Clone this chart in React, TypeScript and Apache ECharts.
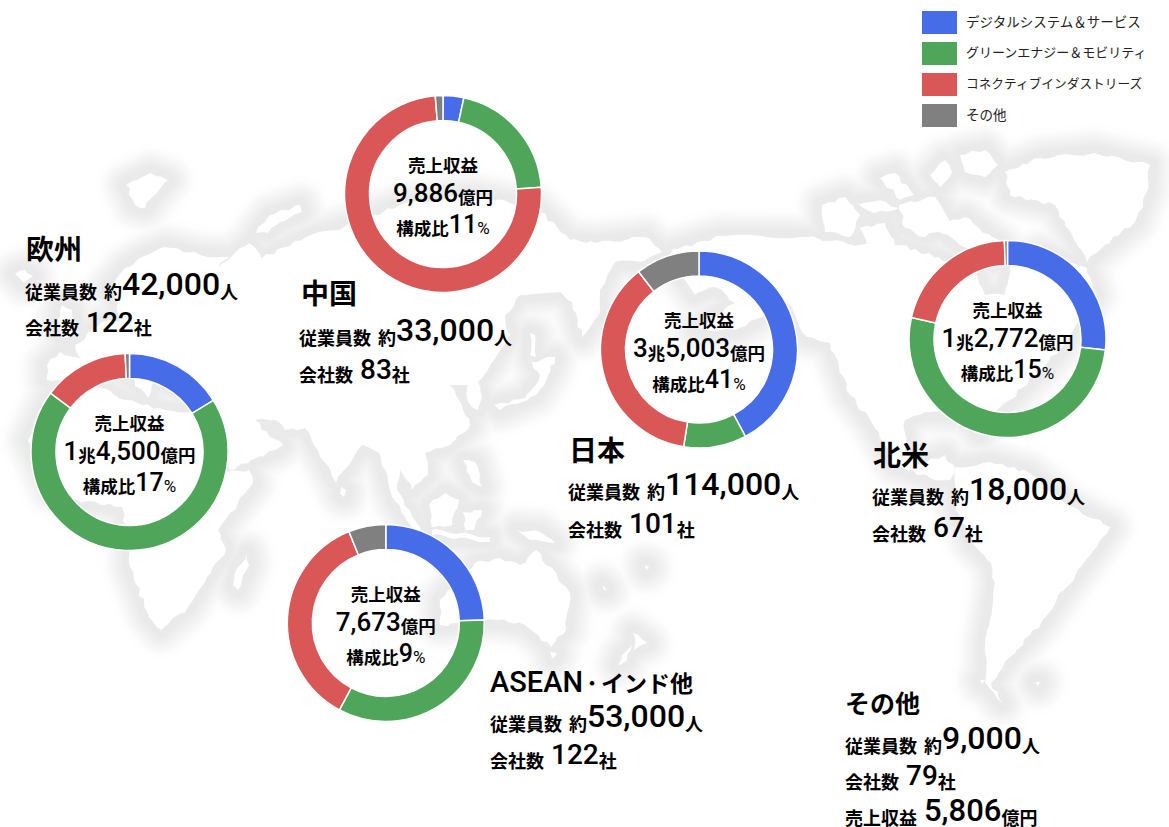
import React, { useEffect, useRef } from "react";
import * as echarts from "echarts";

// ---- data ----
const segmentNames = ["デジタルシステム＆サービス", "グリーンエナジー＆モビリティ", "コネクティブインダストリーズ", "その他"];
const segmentColors = ["#476CE8", "#4FA65A", "#D95757", "#808080"];
const regionOrder = ["欧州", "中国", "日本", "北米", "ASEAN・インド他"];
const digitalShare = [16.2, 3.4, 42.2, 26.8, 24.5];
const greenShare = [69.0, 20.5, 10.3, 51.7, 33.3];
const connectiveShare = [14.1, 74.85, 37.0, 21.0, 36.1];
const otherShare = [0.7, 1.25, 10.5, 0.5, 6.1];
const employees = ["42,000", "33,000", "114,000", "18,000", "53,000", "9,000"];
const companies = ["122", "83", "101", "67", "122", "79"];
const revenueLabels: string[][] = [
  ["1", "兆", "4,500", "億円"],
  ["9,886", "億円"],
  ["3", "兆", "5,003", "億円"],
  ["1", "兆", "2,772", "億円"],
  ["7,673", "億円"],
];
const shareLabels = ["17", "11", "41", "15", "9"];
const otherRevenue = "5,806";

// ---- layout ----
const donutCenters = [[129.5, 452], [443, 194], [699, 349.5], [1007.5, 339], [385.8, 623]];
const titlePos = [[26, 249], [301, 292.5], [569, 450], [873, 455], [490, 683], [845, 703]];
const linePos = [[25, 285.5, 321.7], [299, 331, 368.5], [568, 485, 523], [872, 490, 527], [490, 717.5, 754], [845, 739, 775, 811]];

// ---- decorative world-map backdrop ----
const land: number[][][] = [
  // Eurasia
  [[47,365],[60,352],[80,358],[75,345],[92,330],[102,322],[120,322],[115,296],[108,288],[125,268],[142,257],[165,247],[200,255],[230,257],[218,268],[249,243],[262,258],[306,237],[344,227],[400,205],[470,195],[536,207],[570,240],[597,243],[646,237],[662,252],[640,262],[615,262],[600,290],[600,312],[582,337],[572,302],[560,292],[520,295],[505,315],[510,335],[490,365],[478,382],[482,397],[478,410],[468,402],[468,385],[450,385],[462,405],[470,425],[450,445],[425,453],[428,475],[412,490],[400,470],[397,490],[421,530],[412,526],[390,490],[385,470],[379,453],[362,445],[336,483],[318,450],[305,428],[285,430],[275,420],[255,420],[270,437],[283,445],[275,450],[230,470],[225,462],[198,425],[205,405],[210,392],[180,390],[155,378],[148,398],[125,372],[95,372],[80,385],[47,380]],
  // Africa
  [[50,395],[95,385],[125,400],[165,410],[200,412],[210,450],[228,472],[249,470],[253,483],[230,513],[218,530],[226,550],[207,577],[188,607],[161,630],[149,617],[130,567],[130,550],[122,507],[77,500],[50,490],[28,440]],
  // North and Central America
  [[668,262],[672,250],[720,236],[807,237],[860,245],[900,245],[950,262],[975,270],[985,295],[1005,295],[1010,265],[1040,252],[1087,268],[1095,295],[1060,350],[1040,370],[1010,400],[985,420],[980,435],[965,415],[925,412],[905,420],[905,450],[920,465],[945,455],[955,468],[950,480],[930,478],[895,465],[872,423],[850,395],[830,343],[807,337],[788,303],[735,330],[696,329],[735,303],[715,287],[695,295],[680,275]],
  // South America
  [[956,467],[990,462],[1029,473],[1067,505],[1110,527],[1094,550],[1064,590],[1041,623],[1010,657],[991,683],[1002,703],[985,683],[985,643],[995,583],[991,563],[972,543],[956,507]],
  // Greenland
  [[1005,172],[1040,158],[1095,153],[1150,165],[1148,190],[1135,222],[1100,250],[1087,262],[1072,235],[1055,205],[1010,195]],
  // Arctic islands
  [[960,155],[985,150],[998,165],[985,177],[965,172]],
  [[930,175],[945,160],[952,172],[940,187]],
  [[880,178],[895,173],[914,195],[900,200]],
  [[822,205],[845,197],[860,215],[850,237],[825,232]],
  [[853,203],[880,200],[899,208],[875,213]],
  [[899,205],[935,197],[952,225],[925,237],[905,228]],
  [[860,228],[885,223],[895,245],[870,253]],
  [[933,225],[965,217],[1002,245],[995,263],[960,245]],
  [[830,267],[845,269],[838,273]],
  [[857,288],[868,290],[860,292]],
  // Svalbard, Iceland, Novaya Zemlya, Sri Lanka, Madagascar
  [[126,185],[150,173],[168,180],[155,195],[145,208],[135,205]],
  [[15,274],[25,270],[33,276],[24,283]],
  [[256,233],[270,215],[300,205],[302,212],[280,222],[268,233]],
  [[341,487],[346,490],[344,497],[340,494]],
  [[247,553],[249,565],[238,590],[233,585],[237,568]],
  // Great Britain, Japan, Sakhalin
  [[62,305],[72,310],[78,335],[62,338],[58,320]],
  [[494,405],[525,398],[540,375],[532,362],[555,357],[550,372],[536,395],[500,410]],
  [[530,333],[535,335],[536,357],[530,355]],
  // South-east Asia
  [[394,500],[400,500],[421,530],[415,530]],
  [[432,530],[490,537],[490,542],[432,535]],
  [[429,505],[445,493],[459,500],[452,525],[432,527]],
  [[463,460],[475,462],[482,487],[472,482]],
  [[463,512],[482,510],[474,530],[466,530]],
  [[517,530],[540,532],[555,543],[530,540]],
  // Australia, Tasmania, New Zealand
  [[440,600],[475,563],[500,558],[520,565],[536,550],[570,593],[566,630],[551,647],[525,625],[497,620],[459,623],[440,625]],
  [[550,652],[557,653],[553,659]],
  [[633,633],[647,643],[634,650]],
  [[632,645],[627,660],[618,665],[622,655]],
  [[980,680],[985,680],[982,684]],
  [[1035,682],[1040,682],[1038,686]],
  // Pacific specks
  [[645,565],[649,567],[646,570]],
  [[602,585],[607,590],[604,590]],
];

// Roughens a coastline so the backdrop does not look faceted (decoration only).
function roughen(points: number[][]): number[][] {
  const out: number[][] = [];
  points.forEach((p, i) => {
    const q = points[(i + 1) % points.length];
    const len = Math.hypot(q[0] - p[0], q[1] - p[1]);
    const steps = Math.max(1, Math.round(len / 6));
    for (let k = 0; k < steps; k++) {
      const t = k / steps;
      const x = p[0] + (q[0] - p[0]) * t;
      const y = p[1] + (q[1] - p[1]) * t;
      const wob = k === 0 ? 0 : 1.6;
      out.push([x + wob * Math.sin(x * 1.7 + y * 2.3), y + wob * Math.cos(x * 2.1 - y * 1.3)]);
    }
  });
  return out;
}

const CJK = "'Noto Sans CJK JP', 'Noto Sans', sans-serif";
const NUM = "Roboto, 'Noto Sans', sans-serif";
const ink = "#111";
const cjkWeight = 600;
const b = "bottom";

const rich: any = {
  t: { fontFamily: CJK, fontWeight: cjkWeight, fontSize: 28, color: ink, lineHeight: 40 },
  k: { fontFamily: CJK, fontWeight: cjkWeight, fontSize: 25, color: ink, lineHeight: 40 },
  j: { fontFamily: CJK, fontWeight: cjkWeight, fontSize: 23, color: ink, lineHeight: 40 },
  dot: { fontFamily: CJK, fontWeight: cjkWeight, fontSize: 18, color: ink, lineHeight: 40 },
  a: { fontFamily: NUM, fontWeight: 500, fontSize: 29, color: ink, lineHeight: 40 },
  s: { fontFamily: CJK, fontWeight: cjkWeight, fontSize: 18, color: ink, lineHeight: 36, verticalAlign: b },
  g: { fontFamily: CJK, fontSize: 7, color: ink, lineHeight: 36, verticalAlign: b },
  n1: { fontFamily: NUM, fontWeight: 500, fontSize: 32, color: ink, lineHeight: 36, verticalAlign: b },
  n2: { fontFamily: NUM, fontWeight: 500, fontSize: 28, color: ink, lineHeight: 36, verticalAlign: b },
  n3: { fontFamily: NUM, fontWeight: 500, fontSize: 31, color: ink, lineHeight: 36, verticalAlign: b },
  c: { fontFamily: CJK, fontWeight: cjkWeight, fontSize: 17.5, color: ink, lineHeight: 30, verticalAlign: b },
  d: { fontFamily: NUM, fontWeight: 500, fontSize: 26, color: ink, lineHeight: 30, verticalAlign: b },
  e: { fontFamily: NUM, fontWeight: 500, fontSize: 25, color: ink, lineHeight: 30, verticalAlign: b },
  p: { fontFamily: NUM, fontWeight: 400, fontSize: 17, color: ink, lineHeight: 30, verticalAlign: b },
};

const label = (x: number, y: number, text: string, align: string = "left") => ({
  type: "text",
  x,
  y,
  z: 100,
  silent: true,
  style: { text, x: 0, y: 0, align, verticalAlign: "middle", rich },
});

function titleText(name: string) {
  if (name === "ASEAN・インド他") return "{a|ASEAN}{dot|・}{j|インド他}";
  if (name === "その他") return `{k|${name}}`;
  return `{t|${name}}`;
}

function buildOption() {
  const coasts = land.map(roughen);
  const mapGraphics: any[] = [];
  // halo around the coasts: opaque contours from light to dark, so overlaps do not add up
  const levels = 14;
  for (let l = 0; l < levels; l++) {
    const f = l / (levels - 1);
    const smooth = f * f * (3 - 2 * f);
    const grey = Math.round(254 - smooth * 20);
    const color = `rgb(${grey},${grey},${grey})`;
    const halfWidth = 30 - f * 26;
    land.forEach((points) =>
      mapGraphics.push({
        type: "polygon",
        z: l,
        silent: true,
        shape: { points },
        style: { fill: color, stroke: color, lineWidth: halfWidth * 2, lineJoin: "round" },
      })
    );
  }
  coasts.forEach((points) =>
    mapGraphics.push({ type: "polygon", z: levels, silent: true, shape: { points }, style: { fill: "#fff" } })
  );

  const texts: any[] = [];
  const liftTitle = 1;
  const liftLine = 3.5;
  [...regionOrder, "その他"].forEach((name, i) => {
    const [tx, ty] = titlePos[i];
    const [lx, l1, l2, l3] = linePos[i];
    texts.push(label(tx, ty - liftTitle, titleText(name)));
    texts.push(label(lx, l1 - liftLine, `{s|従業員数}{g|　}{s|約}{n1|${employees[i]}}{s|人}`));
    texts.push(label(lx, l2 - liftLine, `{s|会社数}{g|　}{n2|${companies[i]}}{s|社}`));
    if (l3) texts.push(label(lx, l3 - liftLine, `{s|売上収益}{g|　}{n3|${otherRevenue}}{s|億円}`));
  });
  regionOrder.forEach((_, i) => {
    const [cx, cy] = donutCenters[i];
    const rev = revenueLabels[i]
      .map((tok) => (/^[0-9,]+$/.test(tok) ? `{d|${tok}}` : `{c|${tok}}`))
      .join("");
    texts.push(label(cx, cy - 36, "{c|売上収益}", "center"));
    texts.push(label(cx, cy - 3.5, rev, "center"));
    texts.push(label(cx, cy + 27.5, `{c|構成比}{e|${shareLabels[i]}}{p|%}`, "center"));
  });

  const shares = [digitalShare, greenShare, connectiveShare, otherShare];
  const series = regionOrder.map((name, i) => ({
    type: "pie",
    name,
    z: 50,
    center: donutCenters[i],
    radius: [73.5, 98.5],
    startAngle: 90,
    clockwise: true,
    silent: true,
    color: segmentColors,
    label: { show: false },
    labelLine: { show: false },
    emphasis: { disabled: true },
    itemStyle: { borderColor: "#fff", borderWidth: 1.5 },
    data: segmentNames.map((n, j) => ({ name: n, value: shares[j][i] })),
  }));

  const legendBase = { fontFamily: CJK, color: "#222", lineHeight: 20, padding: [0, 0, 4, 4] };
  return {
    animation: false,
    color: segmentColors,
    backgroundColor: "#fff",
    legend: {
      show: true,
      orient: "vertical",
      z: 60,
      left: 922,
      top: 11,
      padding: 0,
      itemWidth: 35,
      itemHeight: 23,
      itemGap: 8,
      selectedMode: false,
      icon: "rect",
      itemStyle: { borderWidth: 0 },
      formatter: (name: string) => `{l${segmentNames.indexOf(name)}|${name}}`,
      textStyle: {
        rich: {
          l0: { ...legendBase, fontSize: 13.5 },
          l1: { ...legendBase, fontSize: 13 },
          l2: { ...legendBase, fontSize: 12.7 },
          l3: { ...legendBase, fontSize: 13.5 },
        },
      },
      data: segmentNames,
    },
    graphic: { elements: [...mapGraphics, ...texts] },
    series,
  };
}

export default function App() {
  const ref = useRef<HTMLDivElement>(null);
  useEffect(() => {
    const chart = echarts.init(ref.current!, null, { renderer: "svg" });
    chart.setOption(buildOption() as any);
    return () => chart.dispose();
  }, []);
  return <div ref={ref} style={{ position: "absolute", left: 0, top: 0, width: 1169, height: 827, overflow: "hidden" }} />;
}
